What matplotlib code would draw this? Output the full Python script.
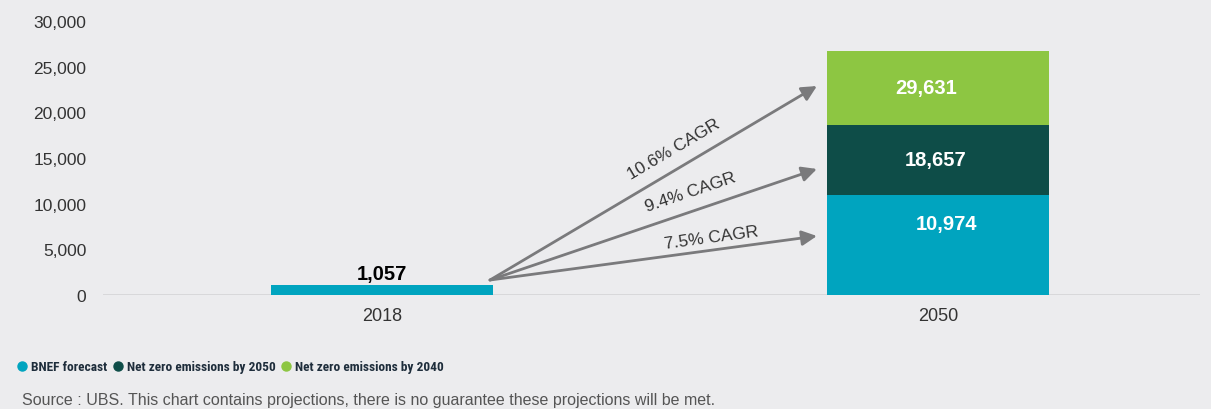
import matplotlib.pyplot as plt
from matplotlib.lines import Line2D

# Data
years = ['2018', '2050']
bnef = [1057, 10974]
nz2050 = [0, 7683]
nz2040 = [0, 8060]
seg_labels_2050 = ['10,974', '18,657', '29,631']
label_2018 = '1,057'
cagr_texts = ['7.5% CAGR', '9.4% CAGR', '10.6% CAGR']
cagr_targets = [6460, 13800, 22880]

c_teal = '#00a4bf'
c_dark = '#0e4d48'
c_light = '#8dc642'
bg = '#ececee'
txt = '#333333'

plt.rcParams['font.family'] = ['Liberation Sans', 'DejaVu Sans']

fig = plt.figure(figsize=(12.11, 4.10), dpi=100, facecolor=bg)
ax = fig.add_axes([103 / 1211, 114 / 410, 1097 / 1211, 274 / 410])
ax.set_facecolor(bg)

x = [0, 1]
w = 0.4
ax.bar(x, bnef, w, color=c_teal, zorder=3)
ax.bar(x, nz2050, w, bottom=bnef, color=c_dark, zorder=3)
bottom2 = [a + b for a, b in zip(bnef, nz2050)]
ax.bar(x, nz2040, w, bottom=bottom2, color=c_light, zorder=3)

ax.set_xlim(-0.502, 1.471)
ax.set_ylim(0, 30000)
ax.set_yticks(range(0, 30001, 5000))
ax.set_yticklabels([f'{v:,}' for v in range(0, 30001, 5000)])
ax.set_xticks(x)
ax.set_xticklabels(years)
ax.tick_params(axis='both', length=0, colors=txt)
ax.tick_params(axis='y', pad=12, labelsize=12.5)
ax.tick_params(axis='x', pad=9, labelsize=13)
for s in ax.spines.values():
    s.set_visible(False)
ax.axhline(0, color='#d6d6d8', lw=2, zorder=2)

# value labels
ax.text(0, bnef[0] + 300, label_2018, ha='center', va='bottom',
        fontsize=14.5, fontweight='bold', color='black')
tops = [bnef[1], bottom2[1], bottom2[1] + nz2040[1]]
bots = [0, bnef[1], bottom2[1]]
dx = [0.015, -0.005, -0.022]
for i, lab in enumerate(seg_labels_2050):
    yc = (tops[i] + bots[i]) / 2
    if i == 0:
        yc = bots[i] + 0.71 * (tops[i] - bots[i])
    ax.text(1 + dx[i], yc, lab, ha='center', va='center', fontsize=14.5,
            fontweight='bold', color='white', zorder=4)

# CAGR arrows
x0, y0 = 0.194, 1640
x1 = 0.782
angles = [7.7, 18.7, 30.5]
tpos = [(0.592, 6350), (0.555, 11300), (0.525, 16000)]
for t, yt, ang, (tx, ty) in zip(cagr_texts, cagr_targets, angles, tpos):
    ax.annotate('', xy=(x1, yt), xytext=(x0, y0),
                arrowprops=dict(arrowstyle='-|>,head_length=0.9,head_width=0.45',
                                color='#7a7a7c', lw=2, shrinkA=0, shrinkB=0),
                zorder=5)
    ax.text(tx, ty, t, rotation=ang, ha='center', va='center',
            fontsize=12.5, color=txt, rotation_mode='anchor')

# legend
handles = [Line2D([], [], marker='o', ls='', color=c, markersize=6.5)
           for c in (c_teal, c_dark, c_light)]
leg = fig.legend(handles, ['BNEF forecast', 'Net zero emissions by 2050',
                           'Net zero emissions by 2040'],
                 loc='center left', bbox_to_anchor=(2 / 1211, 1 - 368 / 410),
                 ncol=3, frameon=False, handletextpad=0.1, columnspacing=0.15,
                 handlelength=1.2,
                 prop={'family': ['Roboto Condensed', 'Liberation Sans Narrow', 'Roboto'],
                       'weight': 'bold', 'size': 9.6})
for t in leg.get_texts():
    t.set_color('#1e2d3b')

fig.text(22 / 1211, 1 - 401 / 410,
         'Source : UBS. This chart contains projections, there is no guarantee these projections will be met.',
         ha='left', va='center', fontsize=11.5, color='#555555')

fig.savefig('out.png', dpi=100, facecolor=bg)
